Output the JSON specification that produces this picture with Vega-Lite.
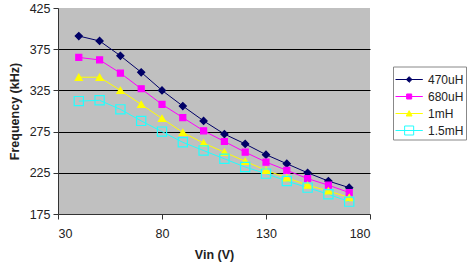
{
  "$schema": "https://vega.github.io/schema/vega-lite/v6.json",
  "width": 312,
  "height": 206,
  "autosize": {"type": "none"},
  "padding": {"left": 58, "top": 8, "right": 106, "bottom": 52},
  "background": "white",
  "config": {
    "view": {"fill": "#c0c0c0", "stroke": null},
    "font": "Liberation Sans",
    "axis": {
      "domainColor": "#333333",
      "tickColor": "#333333",
      "tickSize": 5,
      "labelFont": "Liberation Sans",
      "labelFontSize": 12.5,
      "labelColor": "#222222",
      "titleFont": "Liberation Sans",
      "titleFontSize": 12.5,
      "titleFontWeight": "bold",
      "titleColor": "#222222"
    }
  },
  "data": {
    "values": [
      {"vin": 40, "freq": 391, "s": "470uH"}, {"vin": 50, "freq": 385, "s": "470uH"}, {"vin": 60, "freq": 367, "s": "470uH"}, {"vin": 70, "freq": 347, "s": "470uH"}, {"vin": 80, "freq": 325, "s": "470uH"}, {"vin": 90, "freq": 306, "s": "470uH"}, {"vin": 100, "freq": 288, "s": "470uH"}, {"vin": 110, "freq": 272, "s": "470uH"}, {"vin": 120, "freq": 260, "s": "470uH"}, {"vin": 130, "freq": 247, "s": "470uH"}, {"vin": 140, "freq": 236, "s": "470uH"}, {"vin": 150, "freq": 225, "s": "470uH"}, {"vin": 160, "freq": 215, "s": "470uH"}, {"vin": 170, "freq": 207, "s": "470uH"},
      {"vin": 40, "freq": 365, "s": "680uH"}, {"vin": 50, "freq": 362, "s": "680uH"}, {"vin": 60, "freq": 346, "s": "680uH"}, {"vin": 70, "freq": 327, "s": "680uH"}, {"vin": 80, "freq": 308, "s": "680uH"}, {"vin": 90, "freq": 292, "s": "680uH"}, {"vin": 100, "freq": 276, "s": "680uH"}, {"vin": 110, "freq": 263, "s": "680uH"}, {"vin": 120, "freq": 250, "s": "680uH"}, {"vin": 130, "freq": 238, "s": "680uH"}, {"vin": 140, "freq": 228, "s": "680uH"}, {"vin": 150, "freq": 218, "s": "680uH"}, {"vin": 160, "freq": 210, "s": "680uH"}, {"vin": 170, "freq": 201, "s": "680uH"},
      {"vin": 40, "freq": 341, "s": "1mH"}, {"vin": 50, "freq": 341, "s": "1mH"}, {"vin": 60, "freq": 325, "s": "1mH"}, {"vin": 70, "freq": 308, "s": "1mH"}, {"vin": 80, "freq": 291, "s": "1mH"}, {"vin": 90, "freq": 274, "s": "1mH"}, {"vin": 100, "freq": 261, "s": "1mH"}, {"vin": 110, "freq": 250, "s": "1mH"}, {"vin": 120, "freq": 239, "s": "1mH"}, {"vin": 130, "freq": 228, "s": "1mH"}, {"vin": 140, "freq": 219, "s": "1mH"}, {"vin": 150, "freq": 210, "s": "1mH"}, {"vin": 160, "freq": 203, "s": "1mH"}, {"vin": 170, "freq": 195, "s": "1mH"},
      {"vin": 40, "freq": 312, "s": "1.5mH"}, {"vin": 50, "freq": 313, "s": "1.5mH"}, {"vin": 60, "freq": 302, "s": "1.5mH"}, {"vin": 70, "freq": 288, "s": "1.5mH"}, {"vin": 80, "freq": 275, "s": "1.5mH"}, {"vin": 90, "freq": 262, "s": "1.5mH"}, {"vin": 100, "freq": 252, "s": "1.5mH"}, {"vin": 110, "freq": 242, "s": "1.5mH"}, {"vin": 120, "freq": 232, "s": "1.5mH"}, {"vin": 130, "freq": 224, "s": "1.5mH"}, {"vin": 140, "freq": 215, "s": "1.5mH"}, {"vin": 150, "freq": 207, "s": "1.5mH"}, {"vin": 160, "freq": 199, "s": "1.5mH"}, {"vin": 170, "freq": 190, "s": "1.5mH"}
    ]
  },
  "encoding": {
    "x": {
      "field": "vin", "type": "quantitative",
      "scale": {"domain": [30, 180], "nice": false, "zero": false},
      "axis": {"values": [30, 80, 130, 180], "title": "Vin (V)", "grid": false, "labelPadding": 8, "titlePadding": 9}
    },
    "y": {
      "field": "freq", "type": "quantitative",
      "scale": {"domain": [175, 425], "nice": false, "zero": false},
      "axis": {
        "values": [175, 225, 275, 325, 375, 425],
        "title": "Frequency (kHz)",
        "grid": true,
        "gridColor": "black",
        "gridWidth": 1,
        "gridOpacity": {"condition": {"test": "datum.value == 175 || datum.value == 425", "value": 0}, "value": 1},
        "labelPadding": 3,
        "titlePadding": 8
      }
    },
    "stroke": {
      "field": "s", "type": "nominal",
      "scale": {"domain": ["470uH", "680uH", "1mH", "1.5mH"], "range": ["#000066", "#ff00ff", "#ffff00", "#22ffff"]},
      "legend": {
        "title": null,
        "orient": "none",
        "legendX": 335,
        "legendY": 58.5,
        "fillColor": "white",
        "strokeColor": "#888888",
        "padding": 2,
        "symbolSize": 441,
        "symbolStrokeWidth": 1,
        "labelFont": "Liberation Sans",
        "labelFontSize": 12,
        "labelColor": "#222222",
        "labelOffset": 11,
        "rowPadding": 0,
        "encode": {
          "symbols": {
            "update": {
              "shape": {"signal": "datum.value == '470uH' ? 'M-1,0L1.6,0M0.3,-0.27L0.57,0L0.3,0.27L0.03,0Z' : datum.value == '680uH' ? 'M-1,0L1.6,0M0.06,-0.24L0.54,-0.24L0.54,0.24L0.06,0.24Z' : datum.value == '1mH' ? 'M-1,0L1.6,0M0.3,-0.27L0.58,0.24L0.02,0.24Z' : 'M-1,0L1.6,0M-0.13,-0.43L0.73,-0.43L0.73,0.43L-0.13,0.43Z'"},
              "fill": {"signal": "datum.value == '470uH' ? '#000066' : datum.value == '680uH' ? '#ff00ff' : datum.value == '1mH' ? '#ffff00' : 'transparent'"},
              "size": {"value": 441}
            }
          }
        }
      }
    }
  },
  "layer": [
    {"mark": {"type": "line", "strokeWidth": 1}},
    {
      "mark": {"type": "point", "filled": true, "strokeWidth": 1.2, "opacity": 1},
      "encoding": {
        "shape": {"condition": [{"test": "datum.s == '470uH'", "value": "diamond"}, {"test": "datum.s == '1mH'", "value": "triangle-up"}], "value": "square"},
        "fill": {"condition": [{"test": "datum.s == '470uH'", "value": "#000066"}, {"test": "datum.s == '680uH'", "value": "#ff00ff"}, {"test": "datum.s == '1mH'", "value": "#ffff00"}], "value": "transparent"},
        "size": {"condition": [{"test": "datum.s == '680uH'", "value": 36}, {"test": "datum.s == '1.5mH'", "value": 85}], "value": 50}
      }
    }
  ]
}
